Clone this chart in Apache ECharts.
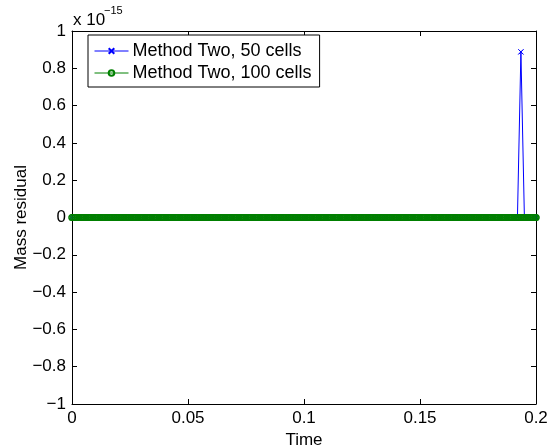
<!DOCTYPE html>
<html>
<head>
<meta charset="utf-8">
<script src="https://cdn.jsdelivr.net/npm/echarts@6/dist/echarts.min.js"></script>
<style>html,body{margin:0;padding:0;background:#fff;}#c{width:549px;height:445px;}</style>
</head>
<body>
<div id="c"></div>
<script>
// Time samples, in units of 1e-4 (50 cells)
const time50 = [0,15,30,45,60,75,90,105,120,135,
150,165,180,195,210,225,240,255,270,285,
300,315,330,345,360,375,390,405,420,435,
450,465,480,495,510,525,540,555,570,585,
600,615,630,645,660,675,690,705,720,735,
750,765,780,795,810,825,840,855,870,885,
900,915,930,945,960,975,990,1005,1020,1035,
1050,1065,1080,1095,1110,1125,1140,1155,1170,1185,
1200,1215,1230,1245,1260,1275,1290,1305,1320,1335,
1350,1365,1380,1395,1410,1425,1440,1455,1470,1485,
1500,1515,1530,1545,1560,1575,1590,1605,1620,1635,
1650,1665,1680,1695,1710,1725,1740,1755,1770,1785,
1800,1815,1830,1845,1860,1875,1890,1905,1920,1935,
1950,1965,1980,1995,2000];
// Mass residual, in units of 1e-15 (50 cells)
const residual50 = [0,0,0,0,0,0,0,0,0,0,
0,0,0,0,0,0,0,0,0,0,
0,0,0,0,0,0,0,0,0,0,
0,0,0,0,0,0,0,0,0,0,
0,0,0,0,0,0,0,0,0,0,
0,0,0,0,0,0,0,0,0,0,
0,0,0,0,0,0,0,0,0,0,
0,0,0,0,0,0,0,0,0,0,
0,0,0,0,0,0,0,0,0,0,
0,0,0,0,0,0,0,0,0,0,
0,0,0,0,0,0,0,0,0,0,
0,0,0,0,0,0,0,0,0,0,
0,0,0,0,0,0,0,0,0,0.888,
0,0,0,0,0];
// Time samples, in units of 1e-5 (100 cells)
const time100 = [0,75,150,225,300,375,450,525,
600,675,750,825,900,975,1050,1125,
1200,1275,1350,1425,1500,1575,1650,1725,
1800,1875,1950,2025,2100,2175,2250,2325,
2400,2475,2550,2625,2700,2775,2850,2925,
3000,3075,3150,3225,3300,3375,3450,3525,
3600,3675,3750,3825,3900,3975,4050,4125,
4200,4275,4350,4425,4500,4575,4650,4725,
4800,4875,4950,5025,5100,5175,5250,5325,
5400,5475,5550,5625,5700,5775,5850,5925,
6000,6075,6150,6225,6300,6375,6450,6525,
6600,6675,6750,6825,6900,6975,7050,7125,
7200,7275,7350,7425,7500,7575,7650,7725,
7800,7875,7950,8025,8100,8175,8250,8325,
8400,8475,8550,8625,8700,8775,8850,8925,
9000,9075,9150,9225,9300,9375,9450,9525,
9600,9675,9750,9825,9900,9975,10050,10125,
10200,10275,10350,10425,10500,10575,10650,10725,
10800,10875,10950,11025,11100,11175,11250,11325,
11400,11475,11550,11625,11700,11775,11850,11925,
12000,12075,12150,12225,12300,12375,12450,12525,
12600,12675,12750,12825,12900,12975,13050,13125,
13200,13275,13350,13425,13500,13575,13650,13725,
13800,13875,13950,14025,14100,14175,14250,14325,
14400,14475,14550,14625,14700,14775,14850,14925,
15000,15075,15150,15225,15300,15375,15450,15525,
15600,15675,15750,15825,15900,15975,16050,16125,
16200,16275,16350,16425,16500,16575,16650,16725,
16800,16875,16950,17025,17100,17175,17250,17325,
17400,17475,17550,17625,17700,17775,17850,17925,
18000,18075,18150,18225,18300,18375,18450,18525,
18600,18675,18750,18825,18900,18975,19050,19125,
19200,19275,19350,19425,19500,19575,19650,19725,
19800,19875,19950,20000];
// Mass residual, in units of 1e-15 (100 cells)
const residual100 = [0,0,0,0,0,0,0,0,
0,0,0,0,0,0,0,0,
0,0,0,0,0,0,0,0,
0,0,0,0,0,0,0,0,
0,0,0,0,0,0,0,0,
0,0,0,0,0,0,0,0,
0,0,0,0,0,0,0,0,
0,0,0,0,0,0,0,0,
0,0,0,0,0,0,0,0,
0,0,0,0,0,0,0,0,
0,0,0,0,0,0,0,0,
0,0,0,0,0,0,0,0,
0,0,0,0,0,0,0,0,
0,0,0,0,0,0,0,0,
0,0,0,0,0,0,0,0,
0,0,0,0,0,0,0,0,
0,0,0,0,0,0,0,0,
0,0,0,0,0,0,0,0,
0,0,0,0,0,0,0,0,
0,0,0,0,0,0,0,0,
0,0,0,0,0,0,0,0,
0,0,0,0,0,0,0,0,
0,0,0,0,0,0,0,0,
0,0,0,0,0,0,0,0,
0,0,0,0,0,0,0,0,
0,0,0,0,0,0,0,0,
0,0,0,0,0,0,0,0,
0,0,0,0,0,0,0,0,
0,0,0,0,0,0,0,0,
0,0,0,0,0,0,0,0,
0,0,0,0,0,0,0,0,
0,0,0,0,0,0,0,0,
0,0,0,0,0,0,0,0,
0,0,0,0];
const seriesNames = ['Method Two, 50 cells', 'Method Two, 100 cells'];
const xTicks = [0, 0.05, 0.1, 0.15, 0.2];
const yTicks = [-1, -0.8, -0.6, -0.4, -0.2, 0, 0.2, 0.4, 0.6, 0.8, 1];
const exponentLabel = ['x 10', '−15'];

const FONT = '"Liberation Sans", Arial, Helvetica, sans-serif';
const data50 = time50.map((t, i) => [t / 1e4, residual50[i]]);
const data100 = time100.map((t, i) => [t / 1e5, residual100[i]]);
const fmtNum = v => {
  const r = Math.round(v * 1000) / 1000;
  return String(r).replace('-', '−');
};
const crossPath = 'path://M0,0L10,10M10,0L0,10';
const BLUE = '#0000ff', GREEN = '#008000';

const chart = echarts.init(document.getElementById('c'), null, {renderer: 'canvas'});
const axisCommon = {
  axisLine: {show: true, onZero: false, lineStyle: {color: '#000', width: 1}},
  axisTick: {show: true, inside: true, length: 5, lineStyle: {color: '#000', width: 1}},
  splitLine: {show: false}
};
chart.setOption({
  animation: false,
  backgroundColor: '#fff',
  textStyle: {fontFamily: FONT},
  grid: {left: 72, right: 13, top: 31, bottom: 41, containLabel: false, outerBoundsMode: 'none'},
  legend: {
    orient: 'vertical',
    left: 88, top: 35,
    data: seriesNames,
    backgroundColor: '#fff',
    borderColor: '#000', borderWidth: 1,
    padding: [7, 8, 5, 6],
    itemGap: 4,
    itemWidth: 34, itemHeight: 7,
    lineStyle: {width: 1},
    textStyle: {fontFamily: FONT, fontSize: 18, color: '#000', padding: [0, 0, 0, -1]}
  },
  xAxis: [
    Object.assign({}, axisCommon, {
      type: 'value', min: xTicks[0], max: xTicks[xTicks.length - 1], interval: 0.05,
      position: 'bottom',
      name: 'Time', nameLocation: 'middle', nameGap: 28, nameMoveOverlap: false,
      nameTextStyle: {fontFamily: FONT, fontSize: 17, color: '#000'},
      axisLabel: {fontFamily: FONT, fontSize: 17, color: '#000', margin: 6,
        formatter: v => fmtNum(v)}
    }),
    Object.assign({}, axisCommon, {
      type: 'value', min: xTicks[0], max: xTicks[xTicks.length - 1], interval: 0.05,
      position: 'top', axisLabel: {show: false}
    })
  ],
  yAxis: [
    Object.assign({}, axisCommon, {
      type: 'value', min: yTicks[0], max: yTicks[yTicks.length - 1], interval: 0.2,
      position: 'left',
      name: 'Mass residual', nameLocation: 'middle', nameGap: 42, nameRotate: 90,
      nameMoveOverlap: false,
      nameTextStyle: {fontFamily: FONT, fontSize: 17, color: '#000'},
      axisLabel: {fontFamily: FONT, fontSize: 17, color: '#000', margin: 6,
        formatter: v => fmtNum(v)}
    }),
    Object.assign({}, axisCommon, {
      type: 'value', min: yTicks[0], max: yTicks[yTicks.length - 1], interval: 0.2,
      position: 'right', axisLabel: {show: false}
    })
  ],
  graphic: [
    {type: 'text', left: 73, top: 12,
      style: {text: exponentLabel[0], fontFamily: FONT, fontSize: 17, fill: '#000'}},
    {type: 'text', left: 104, top: 5,
      style: {text: exponentLabel[1], fontFamily: FONT, fontSize: 11, fill: '#000'}}
  ],
  series: [
    {
      name: seriesNames[0], type: 'line', data: data50,
      symbol: crossPath, symbolSize: 5, showSymbol: true, showAllSymbol: true,
      lineStyle: {color: BLUE, width: 1},
      itemStyle: {color: BLUE, borderColor: BLUE, borderWidth: 1},
      color: BLUE, z: 2
    },
    {
      name: seriesNames[0], type: 'scatter', data: data50,
      symbol: crossPath, symbolSize: 5,
      itemStyle: {color: BLUE, borderColor: BLUE, borderWidth: 1},
      color: BLUE, z: 2
    },
    {
      name: seriesNames[1], type: 'line', data: data100,
      symbol: 'circle', symbolSize: 6, showSymbol: true, showAllSymbol: true,
      lineStyle: {color: GREEN, width: 1},
      itemStyle: {color: 'rgba(0,0,0,0)', borderColor: GREEN, borderWidth: 1.2},
      color: GREEN, z: 3
    },
    {
      name: seriesNames[1], type: 'scatter', data: data100,
      symbol: 'circle', symbolSize: 6,
      itemStyle: {color: 'rgba(0,0,0,0)', borderColor: GREEN, borderWidth: 1.2},
      color: GREEN, z: 3
    }
  ]
});
</script>
</body>
</html>
